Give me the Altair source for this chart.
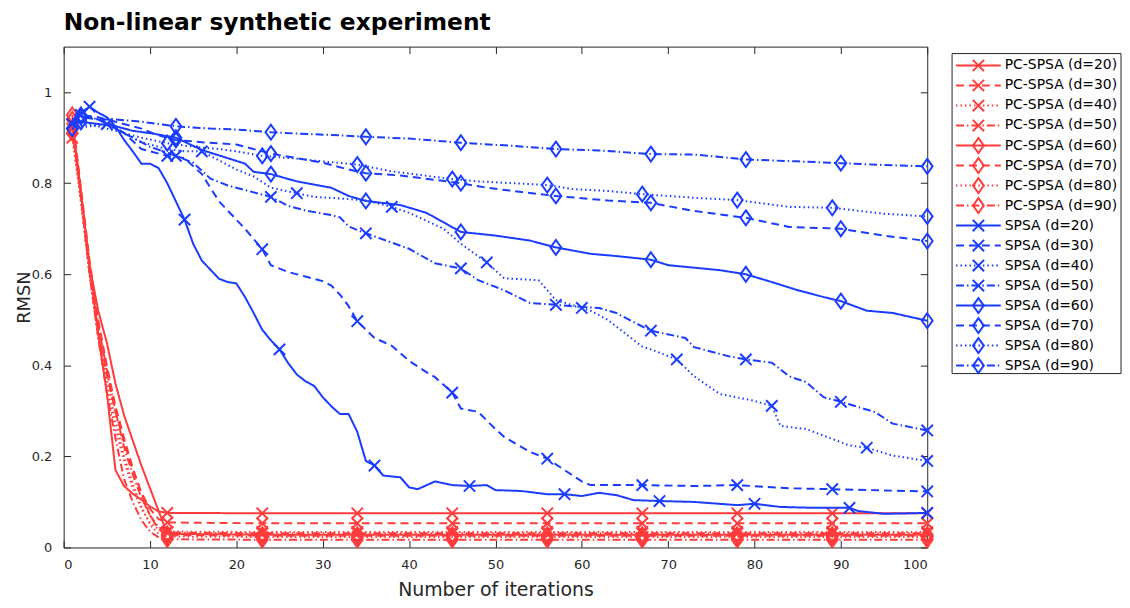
import altair as alt
import pandas as pd

# ---------------- data ----------------
LABELS = [
    "PC-SPSA (d=20)", "PC-SPSA (d=30)", "PC-SPSA (d=40)", "PC-SPSA (d=50)",
    "PC-SPSA (d=60)", "PC-SPSA (d=70)", "PC-SPSA (d=80)", "PC-SPSA (d=90)",
    "SPSA (d=20)", "SPSA (d=30)", "SPSA (d=40)", "SPSA (d=50)",
    "SPSA (d=60)", "SPSA (d=70)", "SPSA (d=80)", "SPSA (d=90)",
]

PC_X = [1, 2, 3, 4, 5, 6, 7, 8, 9, 10, 11, 12, 23, 34, 45, 56, 67, 78, 89, 100]
PC_D20 = [0.93, 0.78, 0.62, 0.47, 0.34, 0.17, 0.135, 0.118, 0.105, 0.09, 0.079, 0.076,
          0.075, 0.075, 0.075, 0.075, 0.075, 0.075, 0.075, 0.075]
PC_D30 = [0.92, 0.77, 0.61, 0.48, 0.38, 0.30, 0.23, 0.17, 0.12, 0.085, 0.062, 0.055,
          0.053, 0.053, 0.053, 0.053, 0.053, 0.053, 0.053, 0.053]
PC_D40 = [0.90, 0.76, 0.60, 0.46, 0.35, 0.26, 0.19, 0.13, 0.085, 0.055, 0.04, 0.035,
          0.034, 0.034, 0.034, 0.034, 0.034, 0.034, 0.034, 0.034]
PC_D50 = [0.93, 0.78, 0.62, 0.49, 0.39, 0.30, 0.22, 0.16, 0.11, 0.07, 0.045, 0.033,
          0.031, 0.031, 0.031, 0.031, 0.031, 0.031, 0.031, 0.031]
PC_D60 = [0.94, 0.78, 0.62, 0.52, 0.45, 0.36, 0.29, 0.235, 0.18, 0.13, 0.08, 0.03,
          0.028, 0.028, 0.028, 0.028, 0.028, 0.028, 0.028, 0.028]
PC_D70 = [0.95, 0.79, 0.63, 0.50, 0.40, 0.31, 0.24, 0.175, 0.12, 0.07, 0.04, 0.027,
          0.026, 0.026, 0.026, 0.026, 0.026, 0.026, 0.026, 0.026]
PC_D80 = [0.91, 0.76, 0.60, 0.47, 0.37, 0.28, 0.20, 0.14, 0.09, 0.05, 0.03, 0.024,
          0.023, 0.023, 0.023, 0.023, 0.023, 0.023, 0.023, 0.023]
PC_D90 = [0.92, 0.77, 0.60, 0.46, 0.34, 0.24, 0.15, 0.10, 0.06, 0.035, 0.022, 0.018,
          0.017, 0.017, 0.017, 0.017, 0.017, 0.017, 0.017, 0.017]

SP_D20_X = [1, 2, 3, 4, 5, 6, 7, 8, 9, 10, 11, 12, 13, 14, 15, 16, 17, 18, 19, 20, 21, 22,
            23, 24, 25, 26, 27, 28, 29, 30, 31, 32, 33, 34, 35, 36, 37, 39, 40, 41, 43, 45,
            47, 49, 50, 53, 56, 58, 60, 62, 64, 66, 69, 73, 78, 80, 83, 87, 91, 92, 95, 98, 100]
SP_D20_Y = [0.93, 0.955, 0.968, 0.955, 0.945, 0.925, 0.895, 0.87, 0.843, 0.843, 0.833, 0.80,
            0.76, 0.72, 0.667, 0.63, 0.61, 0.59, 0.583, 0.58, 0.55, 0.515, 0.478, 0.455,
            0.435, 0.405, 0.38, 0.365, 0.355, 0.33, 0.31, 0.293, 0.293, 0.254, 0.19, 0.18,
            0.158, 0.154, 0.132, 0.128, 0.145, 0.137, 0.135, 0.137, 0.126, 0.124, 0.117,
            0.117, 0.113, 0.12, 0.115, 0.104, 0.102, 0.10, 0.093, 0.096, 0.089, 0.087,
            0.087, 0.08, 0.074, 0.075, 0.076]

SP_D30_X = [1, 3, 5, 7, 9, 11, 12, 14, 16, 18, 20, 21, 23, 24, 26, 28, 30, 31, 32, 33, 34,
            36, 38, 40, 42, 43, 45, 46, 48, 50, 51, 54, 56, 58, 60, 61, 67, 73, 78, 84, 89, 100]
SP_D30_Y = [0.93, 0.945, 0.935, 0.91, 0.875, 0.865, 0.86, 0.855, 0.82, 0.76, 0.72, 0.70,
            0.655, 0.62, 0.605, 0.595, 0.585, 0.575, 0.555, 0.53, 0.497, 0.46, 0.443, 0.41,
            0.385, 0.374, 0.34, 0.305, 0.298, 0.26, 0.243, 0.21, 0.195, 0.17, 0.145, 0.137,
            0.137, 0.135, 0.137, 0.13, 0.128, 0.123]

SP_D40_X = [1, 3, 5, 7, 9, 12, 14, 16, 18, 20, 22, 24, 27, 29, 31, 33, 35, 38, 40, 44, 46,
            49, 51, 55, 57, 60, 61, 63, 67, 68, 71, 73, 76, 80, 82, 83, 86, 91, 93, 96, 100]
SP_D40_Y = [0.92, 0.925, 0.93, 0.91, 0.89, 0.875, 0.87, 0.87, 0.85, 0.83, 0.815, 0.79,
            0.778, 0.77, 0.768, 0.765, 0.762, 0.748, 0.735, 0.70, 0.667, 0.626, 0.591,
            0.587, 0.543, 0.526, 0.52, 0.50, 0.441, 0.435, 0.413, 0.376, 0.337, 0.322,
            0.311, 0.267, 0.26, 0.224, 0.219, 0.202, 0.19]

SP_D50_X = [1, 2, 4, 6, 8, 10, 13, 15, 17, 19, 21, 24, 26, 28, 31, 32, 33, 35, 40, 43, 46,
            48, 51, 54, 57, 60, 62, 64, 66, 68, 72, 73, 77, 79, 82, 84, 86, 88, 90, 94, 96, 100]
SP_D50_Y = [0.93, 0.95, 0.94, 0.92, 0.90, 0.88, 0.86, 0.845, 0.81, 0.795, 0.785, 0.77,
            0.75, 0.74, 0.73, 0.725, 0.705, 0.69, 0.656, 0.624, 0.613, 0.587, 0.565, 0.537,
            0.533, 0.528, 0.526, 0.515, 0.495, 0.476, 0.46, 0.44, 0.42, 0.413, 0.406, 0.376,
            0.363, 0.33, 0.32, 0.297, 0.272, 0.257]

SP_D60_X = [1, 2, 4, 6, 8, 10, 13, 16, 19, 21, 22, 24, 27, 31, 33, 35, 39, 42, 46, 50, 54,
            57, 61, 64, 68, 70, 76, 79, 82, 85, 88, 90, 93, 96, 100]
SP_D60_Y = [0.93, 0.935, 0.93, 0.925, 0.915, 0.91, 0.90, 0.873, 0.855, 0.843, 0.825, 0.82,
            0.804, 0.79, 0.772, 0.761, 0.752, 0.735, 0.693, 0.685, 0.674, 0.659, 0.645,
            0.64, 0.632, 0.62, 0.609, 0.60, 0.583, 0.565, 0.55, 0.541, 0.52, 0.515, 0.498]

SP_D70_X = [1, 2, 4, 6, 9, 11, 13, 16, 20, 23, 24, 27, 30, 33, 35, 39, 46, 49, 52, 57, 63,
            68, 71, 73, 79, 84, 90, 95, 100]
SP_D70_Y = [0.94, 0.95, 0.945, 0.935, 0.92, 0.905, 0.895, 0.89, 0.885, 0.87, 0.865, 0.855,
            0.845, 0.83, 0.822, 0.817, 0.80, 0.79, 0.783, 0.772, 0.762, 0.757, 0.746, 0.739,
            0.724, 0.704, 0.70, 0.685, 0.673]

SP_D80_X = [1, 3, 6, 9, 12, 15, 18, 20, 23, 27, 30, 34, 38, 45, 48, 56, 59, 63, 67, 73, 78,
            84, 89, 95, 100]
SP_D80_Y = [0.92, 0.93, 0.915, 0.90, 0.888, 0.88, 0.875, 0.87, 0.86, 0.854, 0.848, 0.841,
            0.826, 0.809, 0.804, 0.796, 0.787, 0.783, 0.776, 0.768, 0.763, 0.748, 0.746,
            0.733, 0.727]

SP_D90_X = [1, 2, 4, 6, 9, 13, 17, 20, 24, 27, 31, 35, 40, 46, 52, 57, 62, 68, 73, 79, 85,
            90, 95, 100]
SP_D90_Y = [0.93, 0.945, 0.94, 0.94, 0.935, 0.925, 0.92, 0.918, 0.912, 0.909, 0.906, 0.902,
            0.898, 0.889, 0.882, 0.875, 0.872, 0.864, 0.863, 0.852, 0.848, 0.844, 0.84, 0.837]

# iterations that carry a marker, per series
MK_A = [1, 12, 23, 34, 45, 56, 67, 78, 89, 100]
MK_B = [2, 13, 24, 35, 46, 57, 68, 79, 90, 100]
MK_C = [3, 14, 25, 36, 47, 58, 69, 80, 91, 100]
MK_E = [5, 16, 27, 38, 49, 60, 71, 82, 93, 100]

SERIES = [
    (LABELS[0], PC_X, PC_D20, MK_A), (LABELS[1], PC_X, PC_D30, MK_A),
    (LABELS[2], PC_X, PC_D40, MK_A), (LABELS[3], PC_X, PC_D50, MK_A),
    (LABELS[4], PC_X, PC_D60, MK_A), (LABELS[5], PC_X, PC_D70, MK_A),
    (LABELS[6], PC_X, PC_D80, MK_A), (LABELS[7], PC_X, PC_D90, MK_A),
    (LABELS[8], SP_D20_X, SP_D20_Y, MK_C), (LABELS[9], SP_D30_X, SP_D30_Y, MK_A),
    (LABELS[10], SP_D40_X, SP_D40_Y, MK_E), (LABELS[11], SP_D50_X, SP_D50_Y, MK_B),
    (LABELS[12], SP_D60_X, SP_D60_Y, MK_B), (LABELS[13], SP_D70_X, SP_D70_Y, MK_B),
    (LABELS[14], SP_D80_X, SP_D80_Y, MK_A), (LABELS[15], SP_D90_X, SP_D90_Y, MK_B),
]

# ---------------- styles ----------------
RED = "#FF3B3B"
BLUE = "#1A3CFF"
INK = "#262626"
FONT = "DejaVu Sans"
COLORS = [RED] * 8 + [BLUE] * 8
DASHES = [[1, 0], [8, 5], [1.5, 3], [8, 3, 1.5, 3]] * 4
X_PATH = "M-1,-1L1,1M-1,1L1,-1"
D_PATH = "M0,-1L0.72,0L0,1L-0.72,0Z"
X_SIZE = 130
D_SIZE = 225
LW = 2.0

rows = []
for i, (name, xs, ys, mk) in enumerate(SERIES):
    for x, y in zip(xs, ys):
        rows.append({"series": name, "x": x, "y": y, "marker": x in mk,
                     "group": "PC" if i < 8 else "SPSA",
                     "mtype": "x" if (i % 8) < 4 else "d"})
df = pd.DataFrame(rows)

W, H = 869, 504
XS = alt.Scale(domain=[0, 100], nice=False, zero=False)
YS = alt.Scale(domain=[0, 1.1], nice=False, zero=False)
color = alt.Color("series:N", scale=alt.Scale(domain=LABELS, range=COLORS), legend=None)
dash = alt.StrokeDash("series:N", scale=alt.Scale(domain=LABELS, range=DASHES), legend=None)

ax_bottom = alt.Axis(orient="bottom", values=list(range(0, 101, 10)), format="d", offset=-7,
                     tickSize=7, domain=False, grid=False, labelPadding=11,
                     labelFont=FONT, labelFontSize=13, labelColor=INK, tickColor=INK,
                     title="Number of iterations", titleFont=FONT, titleFontSize=19,
                     titleFontWeight="normal", titleColor=INK, titleBaseline="alphabetic",
                     titleY=55)
ax_left = alt.Axis(orient="left", values=[0, 0.2, 0.4, 0.6, 0.8, 1.0], format=".1~f",
                   offset=-7, tickSize=7, domain=False, grid=False, labelPadding=12,
                   labelFont=FONT, labelFontSize=13, labelColor=INK, tickColor=INK,
                   title="RMSN", titleFont=FONT, titleFontSize=18, titleFontWeight="normal",
                   titleColor=INK, titleBaseline="alphabetic", titleAngle=270,
                   titleX=-41, titleY=252, titleAlign="center")
ax_top = alt.Axis(orient="top", values=list(range(0, 101, 10)), labels=False, offset=-7,
                  tickSize=7, domain=False, grid=False, tickColor=INK, title=None)
ax_right = alt.Axis(orient="right", values=[0, 0.2, 0.4, 0.6, 0.8, 1.0], labels=False,
                    offset=-7, tickSize=7, domain=False, grid=False, tickColor=INK, title=None)


def lines(group, xaxis=None, yaxis=None):
    return alt.Chart(df[df.group == group]).mark_line(strokeWidth=LW).encode(
        x=alt.X("x:Q", scale=XS, axis=xaxis),
        y=alt.Y("y:Q", scale=YS, axis=yaxis),
        color=color, strokeDash=dash, order="x:Q")


def markers(group, mtype, xaxis=None, yaxis=None):
    sub = df[(df.group == group) & (df.mtype == mtype) & (df.marker)]
    return alt.Chart(sub).mark_point(
        shape=X_PATH if mtype == "x" else D_PATH, filled=False,
        size=X_SIZE if mtype == "x" else D_SIZE, strokeWidth=LW, opacity=1).encode(
        x=alt.X("x:Q", scale=XS, axis=xaxis),
        y=alt.Y("y:Q", scale=YS, axis=yaxis),
        color=color)


# ---------------- legend ----------------
leg = pd.DataFrame({"series": LABELS, "x0": [0.0] * 16, "x1": [1.0] * 16,
                    "xm": [0.5] * 16,
                    "mtype": ["x" if (i % 8) < 4 else "d" for i in range(16)]})
LX = alt.Scale(domain=[0, 1], range=[898, 943], nice=False, zero=False)
LY = alt.Scale(type="point", domain=LABELS, range=[19, 321], padding=0)
ly = alt.Y("series:N", scale=LY, axis=None)

leg_box = alt.Chart(pd.DataFrame({"k": [0]})).mark_rect(
    fill="white", stroke=INK, strokeWidth=1).encode(
    x=alt.value(894), x2=alt.value(1064), y=alt.value(7), y2=alt.value(329))
leg_lines = alt.Chart(leg).mark_rule(strokeWidth=LW).encode(
    x=alt.X("x0:Q", scale=LX, axis=None), x2="x1:Q", y=ly, color=color, strokeDash=dash)
leg_x = alt.Chart(leg[leg.mtype == "x"]).mark_point(
    shape=X_PATH, filled=False, size=X_SIZE, strokeWidth=LW, opacity=1).encode(
    x=alt.X("xm:Q", scale=LX, axis=None), y=ly, color=color)
leg_d = alt.Chart(leg[leg.mtype == "d"]).mark_point(
    shape=D_PATH, filled=False, size=D_SIZE, strokeWidth=LW, opacity=1).encode(
    x=alt.X("xm:Q", scale=LX, axis=None), y=ly, color=color)
leg_text = alt.Chart(leg).mark_text(
    align="left", baseline="middle", dx=4, font=FONT, fontSize=14, color="#000000").encode(
    x=alt.X("x1:Q", scale=LX, axis=None), y=ly, text="series:N")

chart = alt.layer(
    lines("PC", ax_bottom, ax_left),
    markers("PC", "x"), markers("PC", "d"),
    lines("SPSA"),
    markers("SPSA", "x"), markers("SPSA", "d", ax_top, ax_right),
    leg_box, leg_lines, leg_x, leg_d, leg_text,
).resolve_scale(x="independent", y="independent").properties(
    width=W, height=H,
    title=alt.TitleParams("Non-linear synthetic experiment", anchor="start", frame="group",
                          font=FONT, fontSize=23.5, fontWeight="bold", color="#000000",
                          baseline="alphabetic", offset=16, dy=23),
    autosize=alt.AutoSizeParams(type="none"),
    padding={"left": 56, "top": 37, "right": 196, "bottom": 51},
).configure_view(stroke=INK, strokeWidth=1)

chart.save("out.html", embed_options={"renderer": "svg", "actions": False})
